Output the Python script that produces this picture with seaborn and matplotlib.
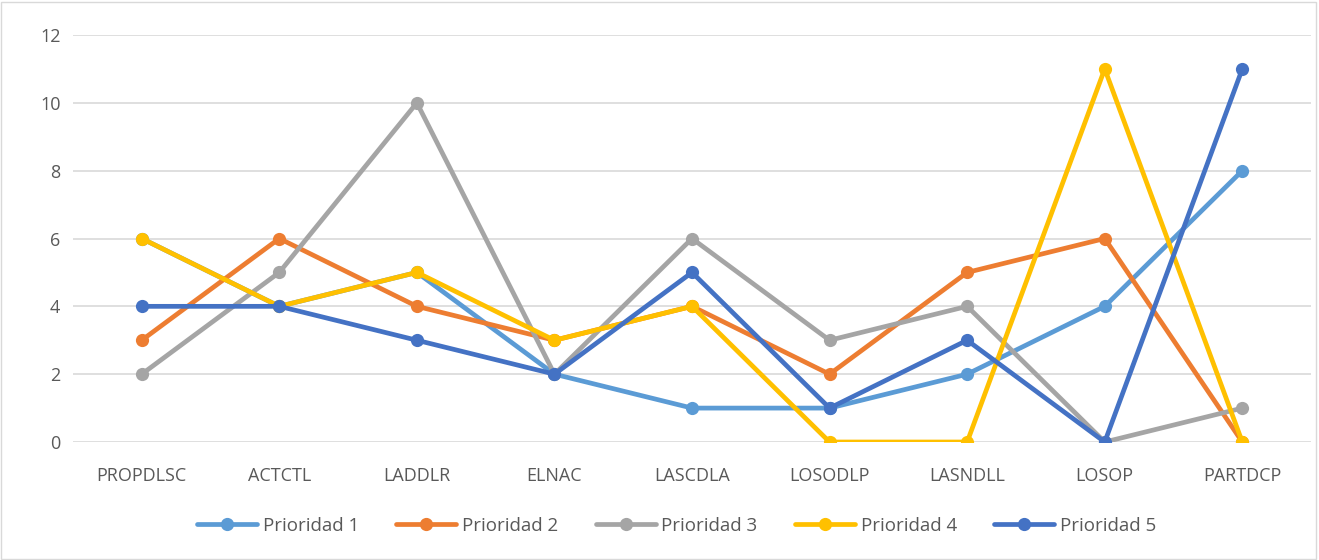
import pandas as pd
import seaborn as sns
import matplotlib.pyplot as plt
from matplotlib.lines import Line2D
from matplotlib.patches import Rectangle

# data
categorias = ['PROPDLSC', 'ACTCTL', 'LADDLR', 'ELNAC', 'LASCDLA',
              'LOSODLP', 'LASNDLL', 'LOSOP', 'PARTDCP']
prioridad_1 = [6, 4, 5, 2, 1, 1, 2, 4, 8]
prioridad_2 = [3, 6, 4, 3, 4, 2, 5, 6, 0]
prioridad_3 = [2, 5, 10, 2, 6, 3, 4, 0, 1]
prioridad_4 = [6, 4, 5, 3, 4, 0, 0, 11, 0]
prioridad_5 = [4, 4, 3, 2, 5, 1, 3, 0, 11]
series = ['Prioridad 1', 'Prioridad 2', 'Prioridad 3', 'Prioridad 4', 'Prioridad 5']
colores = ['#5B9BD5', '#ED7D31', '#A5A5A5', '#FFC000', '#4472C4']

valores = [prioridad_1, prioridad_2, prioridad_3, prioridad_4, prioridad_5]
df = pd.concat([pd.DataFrame({'cat': categorias, 'val': v, 'serie': s})
                for s, v in zip(series, valores)], ignore_index=True)
df['x'] = df['cat'].map({c: i for i, c in enumerate(categorias)})

sns.set_style("white")
plt.rcParams['font.family'] = ['Open Sans', 'DejaVu Sans']

fig = plt.figure(figsize=(13.19, 5.6), dpi=100)
ax = fig.add_axes([0.0553, 0.2107, 0.9387, 0.7268])

for s, c in zip(series, colores):
    sns.lineplot(data=df[df['serie'] == s], x='x', y='val', color=c, lw=3.4,
                 marker='o', markersize=9.5, markeredgewidth=0, ax=ax, legend=False,
                 zorder=3)

ax.set_xlim(-0.5, len(categorias) - 0.5)
ax.set_ylim(0, 12)
ax.set_yticks(range(0, 13, 2))
ax.set_xticks(range(len(categorias)))
ax.set_xticklabels(categorias)
ax.set_xlabel('')
ax.set_ylabel('')
ax.yaxis.grid(True, color='#D9D9D9', lw=1.2)
ax.set_axisbelow(True)
for sp in ax.spines.values():
    sp.set_visible(False)
ax.tick_params(axis='y', length=0, pad=9, labelsize=13, labelcolor='#595959')
ax.tick_params(axis='x', length=0, pad=18, labelsize=13, labelcolor='#595959')
for t in ax.get_yticklabels():
    t.set_clip_on(False)

handles = [Line2D([0], [0], color=c, lw=3.4, marker='o', markersize=9.5,
                  markeredgewidth=0) for c in colores]
fig.legend(handles, series, loc='center', bbox_to_anchor=(0.513, 0.061), ncol=5,
           frameon=False, fontsize=13.5, handlelength=3.2, columnspacing=2.0,
           handletextpad=0.3, labelcolor='#595959')

fig.patches.append(Rectangle((0.001, 0.002), 0.997, 0.995, transform=fig.transFigure,
                             fill=False, edgecolor='#D9D9D9', lw=1))

fig.savefig('out.png', dpi=100)
